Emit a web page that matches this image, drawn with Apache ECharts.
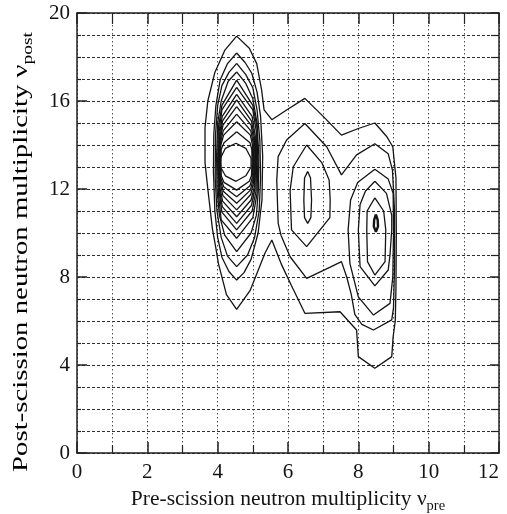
<!DOCTYPE html>
<html>
<head>
<meta charset="utf-8">
<script src="https://cdn.jsdelivr.net/npm/echarts@6/dist/echarts.min.js"></script>
<style>
  html, body { margin: 0; padding: 0; background: #fff; }
  #chart { width: 507px; height: 514px; }
</style>
</head>
<body>
<div id="chart"></div>
<script>
// Axis ranges of the two multiplicities
const preRange = [0, 12];
const postRange = [0, 20];

// Contour lines of the (nu_pre, nu_post) distribution, each a closed path of [nu_pre, nu_post]
// Outermost level, enclosing all three maxima
const contourOuter = [
  [4.54, 18.95], [4.9, 18.4], [5.11, 17.7], [5.25, 16.5], [5.32, 15.6], [5.54, 15.15],
  [5.96, 15.59], [6.48, 16.12], [7.0, 15.3], [7.52, 14.45], [8.0, 14.75], [8.47, 15.0],
  [8.8, 14.4], [8.98, 13.92], [9.07, 12.5], [9.08, 10.0], [9.07, 7.5], [9.05, 6.0],
  [8.99, 5.29], [8.95, 4.38], [8.47, 3.85], [8.0, 4.38], [7.95, 5.59], [7.48, 6.42],
  [6.48, 6.35], [6.1, 7.6], [5.82, 8.55], [5.54, 9.68], [5.35, 9.1], [5.2, 8.5],
  [4.92, 7.38], [4.54, 6.53], [4.25, 7.2], [4.02, 8.62], [3.95, 9.3], [3.85, 10.2],
  [3.72, 12.0], [3.64, 13.2], [3.64, 14.8], [3.72, 16.0], [3.92, 17.3], [4.2, 18.3],
  [4.54, 18.95]
];
// Second level, enclosing the middle and right maxima
const contourMidRight = [
  [6.48, 14.98], [7.1, 13.92], [7.52, 12.64], [7.95, 13.55], [8.47, 14.06], [8.85, 13.6],
  [8.97, 12.86], [9.03, 11.0], [9.03, 8.5], [9.0, 6.6], [8.95, 6.05], [8.43, 5.59],
  [8.1, 5.85], [7.9, 6.3], [7.8, 7.2], [7.67, 8.0], [7.52, 8.7], [7.2, 8.45],
  [6.53, 7.94], [6.06, 8.92], [5.8, 9.9], [5.72, 10.45], [5.68, 12.41], [5.72, 13.47],
  [5.96, 14.23], [6.48, 14.98]
];
// Middle maximum
const middle3 = [
  [6.53, 14.0], [6.96, 13.2], [7.17, 12.41], [7.2, 11.5], [7.19, 10.7], [6.53, 9.38],
  [6.1, 10.14], [6.06, 11.95], [6.15, 13.01], [6.53, 14.0]
];
const middle4 = [
  [6.56, 12.8], [6.64, 12.5], [6.67, 11.5], [6.65, 10.7], [6.56, 10.44], [6.47, 10.7],
  [6.45, 11.5], [6.47, 12.5], [6.56, 12.8]
];
// Right maximum
const right3 = [
  [8.47, 12.9], [8.85, 12.45], [8.99, 11.8], [9.0, 10.0], [8.98, 8.0], [8.9, 6.8],
  [8.43, 6.27], [8.0, 7.1], [7.76, 8.62], [7.71, 10.14], [7.78, 11.5], [7.98, 12.3],
  [8.47, 12.9]
];
const right4 = [
  [8.47, 12.35], [8.8, 11.8], [8.95, 10.8], [8.95, 10.14], [8.9, 9.0], [8.85, 8.32],
  [8.47, 7.6], [8.05, 8.47], [8.0, 10.14], [8.05, 11.3], [8.2, 11.9], [8.47, 12.35]
];
const right5 = [
  [8.47, 11.6], [8.72, 11.0], [8.78, 10.14], [8.76, 8.7], [8.47, 8.09], [8.26, 8.7],
  [8.24, 10.14], [8.25, 11.0], [8.47, 11.6]
];
const right6 = [
  [8.5, 10.85], [8.55, 10.6], [8.56, 10.3], [8.5, 10.05], [8.44, 10.3], [8.45, 10.6], [8.5, 10.85]
];
// Left maximum, from the outside in
const left2 = [
  [4.54, 18.18], [4.78, 17.75], [4.97, 17.26], [5.12, 16.4], [5.22, 15.3], [5.28, 13.5],
  [5.26, 11.5], [5.15, 10.0], [4.95, 8.8], [4.75, 8.2], [4.54, 7.86], [4.32, 8.25],
  [4.12, 8.9], [4.0, 9.8], [3.92, 11.0], [3.88, 12.8], [3.89, 14.5], [3.95, 15.8],
  [4.07, 16.95], [4.28, 17.7], [4.54, 18.18]
];
const left3 = [
  [4.54, 17.71], [4.8, 17.2], [5.0, 16.6], [5.12, 15.6], [5.2, 14.2], [5.22, 12.5],
  [5.18, 11.0], [5.05, 9.8], [4.85, 9.0], [4.54, 8.47], [4.28, 8.95], [4.1, 9.8],
  [3.98, 11.0], [3.93, 12.5], [3.94, 14.5], [4.0, 15.8], [4.12, 16.7], [4.32, 17.3],
  [4.54, 17.71]
];
const left4 = [
  [4.54, 17.32], [4.8, 16.8], [5.0, 16.1], [5.12, 15.0], [5.17, 13.5], [5.16, 12.0],
  [5.1, 10.8], [4.95, 10.0], [4.54, 9.15], [4.2, 9.9], [4.05, 10.8], [3.98, 12.0],
  [3.97, 13.5], [4.0, 15.0], [4.1, 16.0], [4.3, 16.9], [4.54, 17.32]
];
const left5 = [
  [4.54, 16.95], [5.0, 15.8], [5.12, 14.8], [5.14, 13.2], [5.12, 11.8], [5.0, 10.7],
  [4.54, 9.76], [4.1, 10.6], [4.02, 11.8], [4.0, 13.2], [4.02, 14.8], [4.12, 15.8],
  [4.54, 16.95]
];
const left6 = [
  [4.54, 16.62], [5.0, 15.6], [5.1, 14.6], [5.11, 13.2], [5.09, 11.9], [4.98, 11.0],
  [4.54, 10.14], [4.12, 10.95], [4.04, 11.9], [4.02, 13.2], [4.04, 14.6], [4.12, 15.6],
  [4.54, 16.62]
];
const left7 = [
  [4.54, 16.3], [4.98, 15.3], [5.07, 14.4], [5.08, 13.2], [5.06, 12.0], [4.96, 11.25],
  [4.54, 10.44], [4.13, 11.2], [4.05, 12.0], [4.04, 13.2], [4.05, 14.4], [4.13, 15.3],
  [4.54, 16.3]
];
const left8 = [
  [4.54, 16.05], [4.96, 15.1], [5.05, 14.3], [5.06, 13.2], [5.04, 12.1], [4.95, 11.5],
  [4.54, 10.74], [4.14, 11.45], [4.06, 12.1], [4.05, 13.2], [4.06, 14.3], [4.14, 15.1],
  [4.54, 16.05]
];
const left9 = [
  [4.54, 15.74], [4.95, 14.9], [5.03, 14.2], [5.04, 13.2], [5.02, 12.3], [4.94, 11.75],
  [4.54, 11.05], [4.15, 11.7], [4.07, 12.3], [4.06, 13.2], [4.07, 14.2], [4.15, 14.9],
  [4.54, 15.74]
];
const left10 = [
  [4.54, 15.4], [4.94, 14.65], [5.01, 14.1], [5.02, 13.2], [5.0, 12.4], [4.93, 11.95],
  [4.54, 11.35], [4.16, 11.9], [4.08, 12.4], [4.07, 13.2], [4.08, 14.1], [4.16, 14.65],
  [4.54, 15.4]
];
const left11 = [
  [4.54, 15.06], [4.93, 14.45], [4.99, 14.0], [5.0, 13.2], [4.98, 12.5], [4.92, 12.15],
  [4.54, 11.65], [4.17, 12.1], [4.09, 12.5], [4.08, 13.2], [4.09, 14.0], [4.17, 14.45],
  [4.54, 15.06]
];
const left12 = [
  [4.54, 14.6], [4.92, 14.1], [4.97, 13.8], [4.98, 13.2], [4.96, 12.6], [4.9, 12.35],
  [4.54, 11.95], [4.18, 12.3], [4.1, 12.6], [4.09, 13.2], [4.1, 13.8], [4.18, 14.1],
  [4.54, 14.6]
];
const left13 = [
  [4.52, 14.08], [4.8, 13.85], [4.95, 13.4], [4.95, 13.0], [4.8, 12.6], [4.52, 12.35],
  [4.22, 12.6], [4.08, 13.0], [4.08, 13.4], [4.22, 13.85], [4.52, 14.08]
];

const contours = [
  contourOuter, contourMidRight, middle3, middle4,
  right3, right4, right5, right6,
  left2, left3, left4, left5, left6, left7, left8, left9, left10, left11, left12, left13
];

// Axis titles
const preTitle = 'Pre-scission neutron multiplicity ν';
const postTitle = 'Post-scission neutron multiplicity ν';

const serif = '"Liberation Serif", "Times New Roman", serif';
const ink = '#141414';
const vDots = { show: true, lineStyle: { color: '#4a4a4a', width: 1, type: [1.5, 2.5] } };
const hDots = { show: true, lineStyle: { color: '#2e2e2e', width: 1.1, type: [3, 2] } };
const frame = { show: true, onZero: false, lineStyle: { color: '#222', width: 1.5 } };
const titleRich = {
  a: { fontFamily: serif, fontSize: 21.5, color: ink, lineHeight: 30, verticalAlign: 'middle' },
  s: { fontFamily: serif, fontSize: 14.5, color: ink, lineHeight: 15, verticalAlign: 'bottom' }
};

function frameAxis(range, interval, position, tickLen, minorLen, minorSplit) {
  return {
    type: 'value', min: range[0], max: range[1], interval: interval, position: position,
    axisLine: frame,
    axisTick: { show: true, inside: true, length: tickLen, lineStyle: { color: '#222', width: 1.5 } },
    minorTick: { show: true, splitNumber: minorSplit, length: minorLen, lineStyle: { color: '#222', width: 1.2 } },
    axisLabel: { show: false },
    splitLine: { show: false }
  };
}

const chart = echarts.init(document.getElementById('chart'), null, { renderer: 'canvas' });

chart.setOption({
  animation: false,
  backgroundColor: '#fff',
  grid: { left: 77, right: 8, top: 13, bottom: 61, containLabel: false, outerBoundsMode: 'none' },
  xAxis: [
    {
      type: 'value', min: preRange[0], max: preRange[1], interval: 2, position: 'bottom',
      axisLine: frame,
      axisTick: { show: true, inside: true, length: 11, lineStyle: { color: '#222', width: 1.5 } },
      minorTick: { show: true, splitNumber: 2, length: 8, lineStyle: { color: '#222', width: 1.2 } },
      splitLine: vDots, minorSplitLine: vDots,
      axisLabel: { color: ink, fontFamily: serif, fontSize: 21, margin: 9, alignMaxLabel: 'right' },
      name: '{a|' + preTitle + '}{s|pre}',
      nameLocation: 'middle', nameGap: 29,
      nameTextStyle: { rich: titleRich }
    },
    frameAxis(preRange, 2, 'top', 11, 11, 2)
  ],
  yAxis: [
    {
      type: 'value', min: postRange[0], max: postRange[1], interval: 4, position: 'left',
      axisLine: frame,
      axisTick: { show: true, inside: true, length: 10, lineStyle: { color: '#222', width: 1.5 } },
      minorTick: { show: true, splitNumber: 4, length: 4, lineStyle: { color: '#222', width: 1.2 } },
      splitLine: hDots, minorSplitLine: hDots,
      axisLabel: { color: ink, fontFamily: serif, fontSize: 21, margin: 7 }
    },
    frameAxis(postRange, 4, 'right', 9, 8, 4)
  ],
  // vertical title, drawn stretched along its reading direction
  graphic: [{
    type: 'text',
    x: 21, y: 252,
    rotation: Math.PI / 2,
    scaleX: 1.34,
    silent: true,
    style: {
      text: '{a|' + postTitle + '}{s|post}',
      rich: titleRich,
      align: 'center',
      verticalAlign: 'middle'
    }
  }],
  series: contours.map(function (pts) {
    return {
      type: 'line',
      xAxisIndex: 0, yAxisIndex: 0,
      data: pts,
      symbol: 'none',
      showSymbol: false,
      silent: true,
      z: 5,
      lineStyle: { color: ink, width: pts === right6 ? 2.4 : 1.3 }
    };
  })
});
</script>
</body>
</html>
